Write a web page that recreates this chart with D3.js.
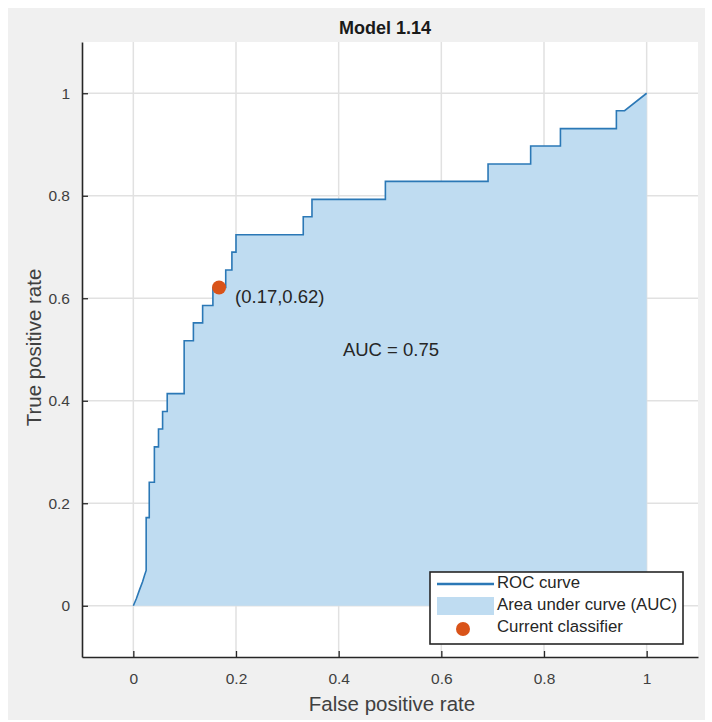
<!DOCTYPE html>
<html>
<head>
<meta charset="utf-8">
<script src="https://cdn.jsdelivr.net/npm/d3@7"></script>
<style>
  html, body { margin: 0; padding: 0; background: #fff; }
  svg { display: block; font-family: "Liberation Sans", Arial, Helvetica, sans-serif; }
</style>
</head>
<body>
<svg id="chart" width="712" height="722"></svg>
<script>
// ROC 曲线顶点（FPR / TPR）
const rocFpr = [0, 0.006, 0.012, 0.018, 0.022, 0.025, 0.025, 0.031, 0.031, 0.041, 0.041, 0.049, 0.049,
  0.057, 0.057, 0.066, 0.066, 0.099, 0.099, 0.117, 0.117, 0.135, 0.135, 0.155, 0.155,
  0.180, 0.180, 0.192, 0.192, 0.200, 0.200, 0.331, 0.331, 0.348, 0.348, 0.491, 0.491,
  0.691, 0.691, 0.774, 0.774, 0.832, 0.832, 0.941, 0.941, 0.957, 1];
const rocTpr = [0, 0.014, 0.031, 0.047, 0.060, 0.069, 0.172, 0.172, 0.241, 0.241, 0.310, 0.310, 0.345,
  0.345, 0.379, 0.379, 0.414, 0.414, 0.517, 0.517, 0.552, 0.552, 0.586, 0.586, 0.621,
  0.621, 0.655, 0.655, 0.690, 0.690, 0.724, 0.724, 0.759, 0.759, 0.793, 0.793, 0.828,
  0.828, 0.862, 0.862, 0.897, 0.897, 0.931, 0.931, 0.966, 0.966, 1];

// 当前分类器位置
const classifierPoint = [0.167, 0.621];
const classifierLabel = '(0.17,0.62)';
const aucLabel = 'AUC = 0.75';

// 坐标轴刻度
const xTicks = [0, 0.2, 0.4, 0.6, 0.8, 1];
const yTicks = [0, 0.2, 0.4, 0.6, 0.8, 1];
const legendItems = ['ROC curve', 'Area under curve (AUC)', 'Current classifier'];

const svg = d3.select('#chart');

// 外层灰色面板
svg.append('rect')
  .attr('x', 8).attr('y', 8)
  .attr('width', 697).attr('height', 712)
  .attr('fill', '#f0f0f0');

const plot = { left: 82, right: 698, top: 42, bottom: 657 };

const x = d3.scaleLinear().domain([-0.1, 1.1]).range([plot.left, plot.right]);
const y = d3.scaleLinear().domain([-0.1, 1.1]).range([plot.bottom, plot.top]);

// 绘图区背景
svg.append('rect')
  .attr('x', plot.left).attr('y', plot.top)
  .attr('width', plot.right - plot.left)
  .attr('height', plot.bottom - plot.top)
  .attr('fill', '#fff');

// 网格线
const grid = svg.append('g').attr('class', 'grid');
grid.selectAll('.gx').data(xTicks).enter().append('line')
  .attr('x1', d => x(d)).attr('x2', d => x(d))
  .attr('y1', plot.top).attr('y2', plot.bottom)
  .attr('stroke', '#e1e1e1').attr('stroke-width', 1.5);
grid.selectAll('.gy').data(yTicks).enter().append('line')
  .attr('y1', d => y(d)).attr('y2', d => y(d))
  .attr('x1', plot.left).attr('x2', plot.right)
  .attr('stroke', '#e1e1e1').attr('stroke-width', 1.5);

const rocData = rocFpr.map((f, i) => ({ fpr: f, tpr: rocTpr[i] }));

// AUC 面积
const area = d3.area()
  .x(d => x(d.fpr))
  .y0(y(0))
  .y1(d => y(d.tpr));

svg.append('path')
  .datum(rocData)
  .attr('d', area)
  .attr('fill', '#bfdcf1');

// ROC 曲线
const line = d3.line()
  .x(d => x(d.fpr))
  .y(d => y(d.tpr));

svg.append('path')
  .datum(rocData)
  .attr('d', line)
  .attr('fill', 'none')
  .attr('stroke', '#2b78b6')
  .attr('stroke-width', 1.6)
  .attr('stroke-linejoin', 'miter');

// 当前分类器点
svg.append('circle')
  .attr('cx', x(classifierPoint[0]))
  .attr('cy', y(classifierPoint[1]))
  .attr('r', 7)
  .attr('fill', '#d95319');

svg.append('text')
  .attr('x', x(classifierPoint[0]) + 16)
  .attr('y', y(classifierPoint[1]) + 16)
  .attr('fill', '#262626')
  .style('font-size', '18.5px')
  .text(classifierLabel);

svg.append('text')
  .attr('x', x(0.5) + 1)
  .attr('y', y(0.5) + 2)
  .attr('text-anchor', 'middle')
  .attr('dominant-baseline', 'middle')
  .attr('fill', '#262626')
  .style('font-size', '18.5px')
  .text(aucLabel);

// 坐标轴（刻度朝内）
const xAxis = d3.axisBottom(x).tickValues(xTicks).tickFormat(d3.format('~g'))
  .tickSizeInner(-6).tickSizeOuter(0).tickPadding(16);
const yAxis = d3.axisLeft(y).tickValues(yTicks).tickFormat(d3.format('~g'))
  .tickSizeInner(-6).tickSizeOuter(0).tickPadding(12);

const styleAxis = g => {
  g.select('.domain').attr('stroke', '#262626').attr('stroke-width', 1.6);
  g.selectAll('.tick line').attr('stroke', '#262626').attr('stroke-width', 1.3);
  g.selectAll('.tick text')
    .attr('fill', '#404040')
    .style('font-size', '15.5px')
    .style('font-family', '"Liberation Sans", Arial, sans-serif');
};

svg.append('g')
  .attr('transform', `translate(0,${plot.bottom})`)
  .call(xAxis)
  .call(styleAxis);

svg.append('g')
  .attr('transform', `translate(${plot.left},0)`)
  .call(yAxis)
  .call(styleAxis);

// 标题和轴标签
svg.append('text')
  .attr('x', (plot.left + plot.right) / 2 - 5)
  .attr('y', 34)
  .attr('text-anchor', 'middle')
  .attr('fill', '#1a1a1a')
  .style('font-size', '18px')
  .style('font-weight', 'bold')
  .text('Model 1.14');

svg.append('text')
  .attr('x', (plot.left + plot.right) / 2 + 2)
  .attr('y', 711)
  .attr('text-anchor', 'middle')
  .attr('fill', '#404040')
  .style('font-size', '20.5px')
  .text('False positive rate');

svg.append('text')
  .attr('transform', `translate(41,${(plot.top + plot.bottom) / 2 - 2}) rotate(-90)`)
  .attr('text-anchor', 'middle')
  .attr('fill', '#404040')
  .style('font-size', '20.5px')
  .text('True positive rate');

// 图例
const legend = svg.append('g')
  .attr('transform', `translate(${plot.right - 268},${plot.bottom - 85})`);

legend.append('rect')
  .attr('width', 253).attr('height', 72)
  .attr('fill', '#fff')
  .attr('stroke', '#262626')
  .attr('stroke-width', 1.6);

legend.append('line')
  .attr('x1', 7).attr('x2', 64)
  .attr('y1', 12).attr('y2', 12)
  .attr('stroke', '#2b78b6')
  .attr('stroke-width', 2.5);

legend.append('rect')
  .attr('x', 7).attr('y', 25)
  .attr('width', 57).attr('height', 18)
  .attr('fill', '#bfdcf1');

legend.append('circle')
  .attr('cx', 33).attr('cy', 57)
  .attr('r', 7)
  .attr('fill', '#d95319');

legend.selectAll('.legend-label')
  .data(legendItems)
  .enter()
  .append('text')
  .attr('x', 67)
  .attr('y', (d, i) => 12 + i * 22)
  .attr('dominant-baseline', 'middle')
  .attr('fill', '#262626')
  .style('font-size', '16.8px')
  .text(d => d);
</script>
</body>
</html>
